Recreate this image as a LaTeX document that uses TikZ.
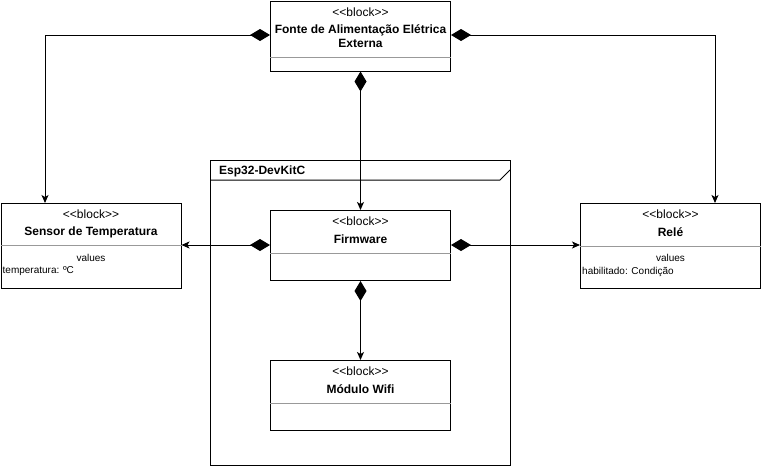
\documentclass[tikz,border=0pt]{standalone}
\usepackage{fontspec}
\setmainfont{Liberation Sans}
\usetikzlibrary{arrows.meta,calc}
\newcommand{\blockstereo}{\textless\kern0pt\textless block\textgreater\kern0pt\textgreater}
\begin{document}
\begin{tikzpicture}[x=1pt,y=-1pt,
  blockbox/.style={draw=black, line width=1pt, minimum width=180pt, minimum height=70pt, inner sep=0pt, anchor=north west, fill=white},
  sepline/.style={draw=black!40, line width=1pt},
  stereo/.style={font=\fontsize{12}{14}\selectfont, inner sep=0pt},
  titletext/.style={font=\fontsize{12}{14}\selectfont\bfseries, inner sep=0pt, align=center},
  valtext/.style={font=\fontsize{10}{12}\selectfont, inner sep=0pt},
  framebox/.style={draw=black, line width=1pt},
  compo/.style={draw=black, line width=1pt, {Diamond[length=20pt,width=12pt]}-{Stealth[length=8pt,width=7pt,inset=2pt]}},
]
\useasboundingbox (0,0) rectangle (761,466);

% frame
\draw[framebox] (210,160) rectangle (510,465);
\coordinate (fh1) at (210,180);
\coordinate (fh2) at (500,180);
\coordinate (fh3) at (510,170);
\draw[framebox] (fh1) -- (fh2) -- (fh3);
\node[font=\fontsize{12}{14}\selectfont\bfseries, anchor=west, inner sep=0pt] (framelabel) at (219,171) {Esp32-DevKitC};

% blocks
\node[blockbox, minimum height=70pt] (fonte) at (270,0.5) {};
\node[blockbox, minimum height=85pt] (sensor) at (0.5,203) {};
\node[blockbox, minimum height=85pt] (rele) at (580,203) {};
\node[blockbox] (firm) at (270,210) {};
\node[blockbox] (wifi) at (270,360) {};

% separators
\draw[sepline] ($(fonte.north west)+(0,57)$) -- ($(fonte.north east)+(0,57)$);
\draw[sepline] ($(sensor.north west)+(0,42)$) -- ($(sensor.north east)+(0,42)$);
\draw[sepline] ($(rele.north west)+(0,43)$) -- ($(rele.north east)+(0,43)$);
\draw[sepline] ($(firm.north west)+(0,43)$) -- ($(firm.north east)+(0,43)$);
\draw[sepline] ($(wifi.north west)+(0,43)$) -- ($(wifi.north east)+(0,43)$);

% texts
\node[stereo] (fonteS) at ($(fonte.north)+(0,12)$) {\blockstereo};
\node[titletext] (fonteT) at ($(fonte.north)+(0,36)$) {Fonte de Alimentação Elétrica\\Externa};

\node[stereo] (sensorS) at ($(sensor.north)+(0,11)$) {\blockstereo};
\node[titletext] (sensorT) at ($(sensor.north)+(0,29)$) {Sensor de Temperatura};
\node[valtext] (sensorV) at ($(sensor.north)+(0,55)$) {values};
\node[valtext, anchor=west] (sensorA) at ($(sensor.north west)+(2,68)$) {temperatura: ºC};

\node[stereo] (releS) at ($(rele.north)+(0,11)$) {\blockstereo};
\node[titletext] (releT) at ($(rele.north)+(0,29)$) {Relé};
\node[valtext] (releV) at ($(rele.north)+(0,55)$) {values};
\node[valtext, anchor=west] (releA) at ($(rele.north west)+(2,69)$) {habilitado: Condição};

\node[stereo] (firmS) at ($(firm.north)+(0,11)$) {\blockstereo};
\node[titletext] (firmT) at ($(firm.north)+(0,29)$) {Firmware};

\node[stereo] (wifiS) at ($(wifi.north)+(0,11)$) {\blockstereo};
\node[titletext] (wifiT) at ($(wifi.north)+(0,29)$) {Módulo Wifi};

% connectors
\coordinate (cl) at (45,35);
\coordinate (cr) at (715,35);
\draw[compo] (fonte.west |- cl) -| (sensor.north -| cl);
\draw[compo] (fonte.east |- cr) -| (rele.north -| cr);
\draw[compo] (fonte.south) -- (firm.north);
\draw[compo] (firm.west |- 0,245) -- (sensor.east |- 0,245);
\draw[compo] (firm.east |- 0,245) -- (rele.west |- 0,245);
\draw[compo] (firm.south) -- (wifi.north);
\end{tikzpicture}
\end{document}
